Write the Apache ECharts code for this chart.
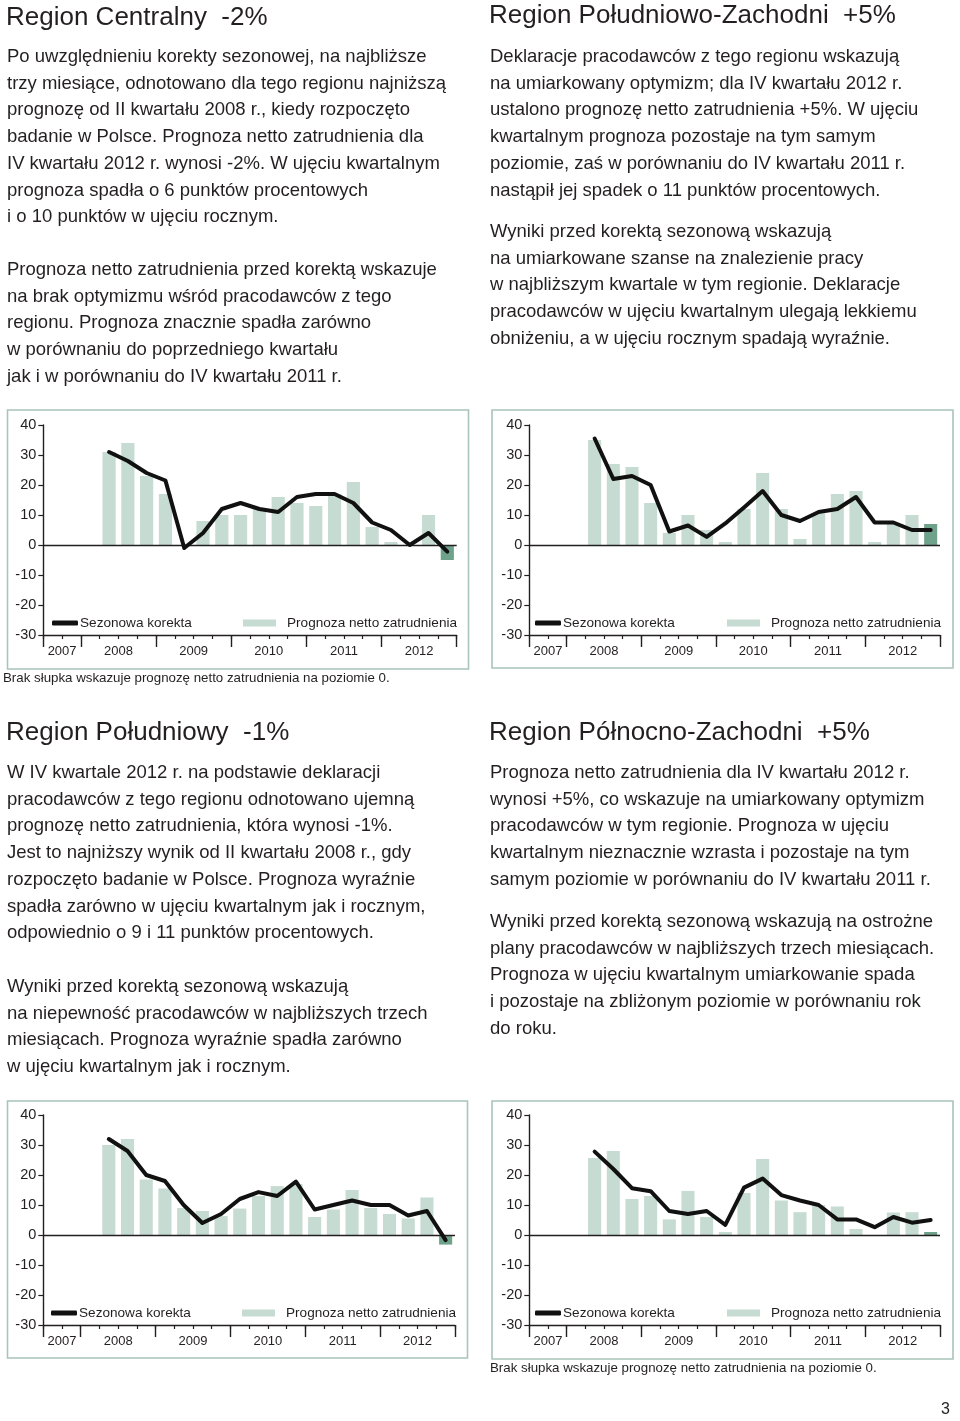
<!DOCTYPE html>
<html>
<head>
<meta charset="utf-8">
<script src="https://cdn.jsdelivr.net/npm/echarts@6.0.0/dist/echarts.min.js"></script>
<style>
html,body{margin:0;padding:0;background:#fff;}
#main{width:960px;height:1421px;}
</style>
</head>
<body>
<div id="main"></div>
<script>
// ---------- DATA ----------
var quarters = ['III 2007','IV 2007',
  'I 2008','II 2008','III 2008','IV 2008',
  'I 2009','II 2009','III 2009','IV 2009',
  'I 2010','II 2010','III 2010','IV 2010',
  'I 2011','II 2011','III 2011','IV 2011',
  'I 2012','II 2012','III 2012','IV 2012'];
var years = ['2007','2008','2009','2010','2011','2012'];
var yearBounds = [0, 2, 6, 10, 14, 18, 22];   // quarter boundaries where years change
var yearCenters = [1, 4, 8, 12, 16, 20];      // middle of each year span

var seriesLineName = 'Sezonowa korekta';
var seriesBarName = 'Prognoza netto zatrudnienia';

// values start in II 2008 (first 3 quarters have no data)
var centralnyBars = [null,null,null, 31, 34, 23, 17, 0, 8, 10, 10, 12, 16, 14, 13, 17, 21, 6, 1, 0, 10, -5];
var centralnyLine = [null,null,null, 31, 28, 24, 21.5, -1, 4, 12, 14, 12, 11, 16, 17, 17, 14, 7.5, 5, 0, 4, -2.2];

var pdZachBars = [null,null,null, 35, 27, 26, 14, 4, 10, 5, 1, 12, 24, 12, 2, 10.5, 17, 18, 1, 7, 10, 7];
var pdZachLine = [null,null,null, 35.5, 22, 23, 20, 4.5, 6.5, 2.7, 7.2, 12.5, 18, 10, 8, 11, 12, 16, 7.5, 7.5, 5, 5];

var poludniowyBars = [null,null,null, 30, 32, 18.5, 15.5, 9, 8, 6.3, 8.8, 13, 16.3, 17, 6, 8.5, 15, 9, 7, 5.5, 12.5, -3.2];
var poludniowyLine = [null,null,null, 32, 28, 20, 18, 10, 4, 7, 12, 14.3, 13, 17.8, 8.5, 10, 11.5, 10, 10, 6.5, 8, -1.7];

var pnZachBars = [null,null,null, 25.7, 28, 12, 13, 5.2, 14.7, 6, 1, 14, 25.3, 11.5, 7.6, 10, 9.5, 2, 0, 7.5, 7.6, 1];
var pnZachLine = [null,null,null, 27.8, 22, 15.6, 14.6, 8, 7, 8, 3.4, 15.8, 18.8, 13.3, 11.5, 10, 5.2, 5.2, 2.6, 6, 4.1, 5];

// ---------- TEXTS ----------
var titleCentralny = 'Region Centralny  -2%';
var textCentralny1 = [
 'Po uwzględnieniu korekty sezonowej, na najbliższe',
 'trzy miesiące, odnotowano dla tego regionu najniższą',
 'prognozę od II kwartału 2008 r., kiedy rozpoczęto',
 'badanie w Polsce. Prognoza netto zatrudnienia dla',
 'IV kwartału 2012 r. wynosi -2%. W ujęciu kwartalnym',
 'prognoza spadła o 6 punktów procentowych',
 'i o 10 punktów w ujęciu rocznym.'];
var textCentralny2 = [
 'Prognoza netto zatrudnienia przed korektą wskazuje',
 'na brak optymizmu wśród pracodawców z tego',
 'regionu. Prognoza znacznie spadła zarówno',
 'w porównaniu do poprzedniego kwartału',
 'jak i w porównaniu do IV kwartału 2011 r.'];

var titlePdZach = 'Region Południowo-Zachodni  +5%';
var textPdZach1 = [
 'Deklaracje pracodawców z tego regionu wskazują',
 'na umiarkowany optymizm; dla IV kwartału 2012 r.',
 'ustalono prognozę netto zatrudnienia +5%. W ujęciu',
 'kwartalnym prognoza pozostaje na tym samym',
 'poziomie, zaś w porównaniu do IV kwartału 2011 r.',
 'nastąpił jej spadek o 11 punktów procentowych.'];
var textPdZach2 = [
 'Wyniki przed korektą sezonową wskazują',
 'na umiarkowane szanse na znalezienie pracy',
 'w najbliższym kwartale w tym regionie. Deklaracje',
 'pracodawców w ujęciu kwartalnym ulegają lekkiemu',
 'obniżeniu, a w ujęciu rocznym spadają wyraźnie.'];

var titlePoludniowy = 'Region Południowy  -1%';
var textPoludniowy1 = [
 'W IV kwartale 2012 r. na podstawie deklaracji',
 'pracodawców z tego regionu odnotowano ujemną',
 'prognozę netto zatrudnienia, która wynosi -1%.',
 'Jest to najniższy wynik od II kwartału 2008 r., gdy',
 'rozpoczęto badanie w Polsce. Prognoza wyraźnie',
 'spadła zarówno w ujęciu kwartalnym jak i rocznym,',
 'odpowiednio o 9 i 11 punktów procentowych.'];
var textPoludniowy2 = [
 'Wyniki przed korektą sezonową wskazują',
 'na niepewność pracodawców w najbliższych trzech',
 'miesiącach. Prognoza wyraźnie spadła zarówno',
 'w ujęciu kwartalnym jak i rocznym.'];

var titlePnZach = 'Region Północno-Zachodni  +5%';
var textPnZach1 = [
 'Prognoza netto zatrudnienia dla IV kwartału 2012 r.',
 'wynosi +5%, co wskazuje na umiarkowany optymizm',
 'pracodawców w tym regionie. Prognoza w ujęciu',
 'kwartalnym nieznacznie wzrasta i pozostaje na tym',
 'samym poziomie w porównaniu do IV kwartału 2011 r.'];
var textPnZach2 = [
 'Wyniki przed korektą sezonową wskazują na ostrożne',
 'plany pracodawców w najbliższych trzech miesiącach.',
 'Prognoza w ujęciu kwartalnym umiarkowanie spada',
 'i pozostaje na zbliżonym poziomie w porównaniu rok',
 'do roku.'];

var footnote = 'Brak słupka wskazuje prognozę netto zatrudnienia na poziomie 0.';
var pageNumber = '3';

// ---------- STYLE / LAYOUT ----------
var FONT = '"Liberation Sans", Arial, Helvetica, sans-serif';
var INK = '#231f20';
var BAR_LIGHT = '#c6dbd1';
var BAR_DARK = '#6fa28b';
var FRAME = '#a8c5b8';

var charts = [
  {bars: centralnyBars, line: centralnyLine, grid:{left:43.3, top:425, width:413.4, height:210},
   frame:[7.5, 410, 461, 259], legLine:[52, 616], legBar:[243, 616]},
  {bars: pdZachBars, line: pdZachLine, grid:{left:529.3, top:425, width:410.7, height:210},
   frame:[492, 410, 461, 258], legLine:[535, 616], legBar:[727, 616]},
  {bars: poludniowyBars, line: poludniowyLine, grid:{left:43.3, top:1115, width:411.7, height:210},
   frame:[7.5, 1101, 460, 257], legLine:[51, 1306], legBar:[242, 1306]},
  {bars: pnZachBars, line: pnZachLine, grid:{left:529.3, top:1115, width:410.7, height:210},
   frame:[492, 1101, 461, 258], legLine:[535, 1306], legBar:[727, 1306]}
];

var grids = [], xAxes = [], yAxes = [], series = [], legends = [], graphics = [];

charts.forEach(function(c, g){
  grids.push(c.grid);
  // category axis for data (hidden)
  xAxes.push({type:'category', gridIndex:g, data:quarters, show:false, boundaryGap:true});
  // quarter ticks + base line
  xAxes.push({type:'value', gridIndex:g, min:0, max:22, interval:1, position:'bottom',
    axisLine:{show:true, onZero:false, lineStyle:{color:INK, width:1.4}},
    axisTick:{show:true, length:4, lineStyle:{color:INK, width:1.2}},
    axisLabel:{show:false}, splitLine:{show:false}});
  // year ticks + labels
  xAxes.push({type:'value', gridIndex:g, min:0, max:22, position:'bottom',
    axisLine:{show:false, onZero:false},
    axisTick:{show:true, customValues:yearBounds, length:12, lineStyle:{color:INK, width:1.4}},
    axisLabel:{show:true, customValues:yearCenters, margin:10, fontSize:13, fontFamily:FONT, color:INK,
      formatter:function(v){ var i = yearCenters.indexOf(Math.round(v)); return i>=0 ? years[i] : ''; }},
    splitLine:{show:false}});
  yAxes.push({type:'value', gridIndex:g, min:-30, max:40, interval:10,
    axisLine:{show:true, onZero:false, lineStyle:{color:INK, width:1.4}},
    axisTick:{show:true, length:5, lineStyle:{color:INK, width:1.2}},
    axisLabel:{fontSize:14.5, fontFamily:FONT, color:INK, margin:7},
    splitLine:{show:false}});

  var barData = c.bars.map(function(v, i){
    if (v === null) return '-';
    if (i === c.bars.length - 1) return {value:v, itemStyle:{color:BAR_DARK}};
    return v;
  });
  series.push({type:'bar', name:seriesBarName, xAxisIndex:g*3, yAxisIndex:g, data:barData,
    barWidth:'70%', itemStyle:{color:BAR_LIGHT}, silent:true, z:2,
    markLine:{silent:true, symbol:'none', label:{show:false},
      lineStyle:{color:INK, width:1.4, type:'solid'}, data:[{yAxis:0}]}});
  series.push({type:'line', name:seriesLineName, xAxisIndex:g*3, yAxisIndex:g, data:c.line.map(function(v){return v===null?'-':v;}),
    symbol:'none', silent:true, z:5, color:'#111',
    lineStyle:{color:'#111', width:4, cap:'round', join:'round'}});

  legends.push({left:c.legLine[0], top:c.legLine[1], padding:0, selectedMode:false,
    itemWidth:26, itemHeight:5, itemGap:0,
    data:[{name:seriesLineName, icon:'roundRect', itemStyle:{color:'#111'}}],
    textStyle:{fontSize:13.6, fontFamily:FONT, color:INK, padding:[0,0,0,-3]}});
  legends.push({left:c.legBar[0], top:c.legBar[1], padding:0, selectedMode:false,
    itemWidth:33, itemHeight:7, itemGap:0,
    data:[{name:seriesBarName, icon:'rect', itemStyle:{color:BAR_LIGHT}}],
    textStyle:{fontSize:13.6, fontFamily:FONT, color:INK, padding:[0,0,0,6]}});

  graphics.push({type:'rect', shape:{x:c.frame[0], y:c.frame[1], width:c.frame[2], height:c.frame[3]},
    style:{fill:'none', stroke:FRAME, lineWidth:1.6}, silent:true, z:-1});
});

function addTitle(txt, x, y){
  graphics.push({type:'text', x:x, y:y, silent:true,
    style:{text:txt, font:'26px ' + FONT, fill:INK, verticalAlign:'middle', align:'left'}});
}
function addPara(lines, x, yFirstCenter){
  var lh = 26.7;
  graphics.push({type:'text', x:x, y:yFirstCenter - lh/2, silent:true,
    style:{text:lines.join('\n'), font:'18.5px ' + FONT, fill:INK, lineHeight:lh, verticalAlign:'top', align:'left'}});
}
addTitle(titleCentralny, 6, 18);
addPara(textCentralny1, 7, 57);
addPara(textCentralny2, 7, 270);
addTitle(titlePdZach, 489, 16);
addPara(textPdZach1, 490, 57);
addPara(textPdZach2, 490, 232);
addTitle(titlePoludniowy, 6, 733);
addPara(textPoludniowy1, 7, 773);
addPara(textPoludniowy2, 7, 987);
addTitle(titlePnZach, 489, 733);
addPara(textPnZach1, 490, 773);
addPara(textPnZach2, 490, 922);

graphics.push({type:'text', x:3, y:678, silent:true,
  style:{text:footnote, font:'13.3px ' + FONT, fill:INK, verticalAlign:'middle'}});
graphics.push({type:'text', x:490, y:1368, silent:true,
  style:{text:footnote, font:'13.3px ' + FONT, fill:INK, verticalAlign:'middle'}});
graphics.push({type:'text', x:950, y:1410, silent:true,
  style:{text:pageNumber, font:'16px ' + FONT, fill:INK, verticalAlign:'middle', align:'right'}});

var chart = echarts.init(document.getElementById('main'), null, {renderer:'canvas'});
chart.setOption({
  backgroundColor:'#ffffff',
  animation:false,
  textStyle:{fontFamily:FONT},
  grid:grids,
  xAxis:xAxes,
  yAxis:yAxes,
  legend:legends,
  series:series,
  graphic:graphics
});
</script>
</body>
</html>
